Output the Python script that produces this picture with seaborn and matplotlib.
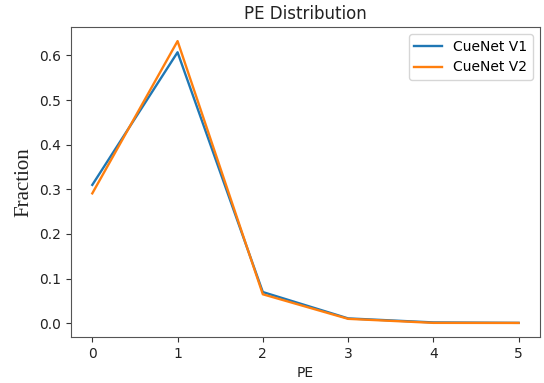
import pandas as pd
import matplotlib
matplotlib.use("Agg")
import matplotlib.pyplot as plt
import seaborn as sns

# values
pe = [0, 1, 2, 3, 4, 5]
v1 = [0.310, 0.607, 0.070, 0.011, 0.002, 0.001]
v2 = [0.291, 0.632, 0.065, 0.010, 0.001, 0.0008]

df = pd.DataFrame({
    'PE': pe * 2,
    'Fraction': v1 + v2,
    'Model': ['CueNet V1'] * len(pe) + ['CueNet V2'] * len(pe),
})

fig = plt.figure(figsize=(5.44, 3.83), dpi=100)
ax = fig.add_axes([0.1305, 0.12, 0.862, 0.8095])

sns.lineplot(data=df, x='PE', y='Fraction', hue='Model',
             palette=['#1f77b4', '#ff7f0e'], linewidth=1.7, ax=ax)

ax.set_title('PE Distribution', fontsize=12, color='#222222')
ax.set_xlabel('PE', fontsize=10, color='#222222')
ax.set_ylabel('Fraction', fontsize=15, family='Liberation Serif', color='#222222')
ax.set_yticks([0.0, 0.1, 0.2, 0.3, 0.4, 0.5, 0.6])
ax.tick_params(colors='#333333', labelcolor='#222222')
for s in ax.spines.values():
    s.set_color('#555555')
ax.legend(title=None, loc='upper right', fontsize=10)

plt.savefig('out.png', dpi=100)
